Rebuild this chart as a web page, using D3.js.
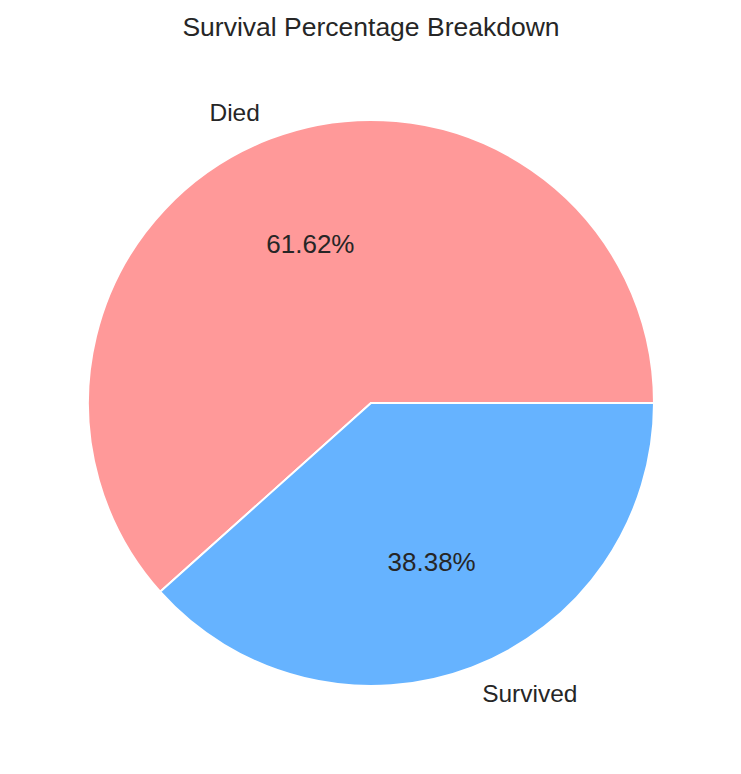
<!DOCTYPE html>
<html>
<head>
<meta charset="utf-8">
<script src="https://cdn.jsdelivr.net/npm/d3@7"></script>
<style>
  body { margin: 0; background: #fff; }
  text { font-family: 'Liberation Sans', Arial, sans-serif; fill: #262626; }
</style>
</head>
<body>
<div id="chart"></div>
<script>
var labels = ['Died', 'Survived'];
var percents = [61.62, 38.38];
var colors = ['#ff9999', '#66b3ff'];

var width = 741;
var height = 774;
var cx = 371;
var cy = 403;
var radius = 283;

var svg = d3
	.select('#chart')
	.append('svg')
	.attr('width', width)
	.attr('height', height);

svg
	.append('text')
	.attr('x', cx)
	.attr('y', 27)
	.attr('text-anchor', 'middle')
	.attr('dominant-baseline', 'central')
	.style('font-size', '26.5px')
	.text('Survival Percentage Breakdown');

/* matplotlib style: start at 3 o'clock, counter-clockwise */
var pie = d3
	.pie()
	.sort(null)
	.value(d => d)
	.startAngle(Math.PI / 2)
	.endAngle(Math.PI / 2 - 2 * Math.PI);

var arcs = pie(percents);

var arc = d3.arc().innerRadius(0).outerRadius(radius);
var labelArc = d3.arc().innerRadius(radius * 1.1).outerRadius(radius * 1.1);
var pctArc = d3.arc().innerRadius(radius * 0.6).outerRadius(radius * 0.6);

var g = svg.append('g').attr('transform', `translate(${cx}, ${cy})`);

g.selectAll('path')
	.data(arcs)
	.enter()
	.append('path')
	.attr('d', arc)
	.attr('fill', (d, i) => colors[i])
	.attr('stroke', '#fff')
	.attr('stroke-width', 2);

g.selectAll('.label')
	.data(arcs)
	.enter()
	.append('text')
	.attr('class', 'label')
	.attr('transform', d => `translate(${labelArc.centroid(d)})`)
	.attr('text-anchor', d => (labelArc.centroid(d)[0] < 0 ? 'end' : 'start'))
	.attr('dominant-baseline', 'central')
	.style('font-size', '24.5px')
	.text((d, i) => labels[i]);

g.selectAll('.pct')
	.data(arcs)
	.enter()
	.append('text')
	.attr('class', 'pct')
	.attr('transform', d => `translate(${pctArc.centroid(d)})`)
	.attr('text-anchor', 'middle')
	.attr('dominant-baseline', 'central')
	.style('font-size', '26px')
	.text(d => d.value.toFixed(2) + '%');
</script>
</body>
</html>
